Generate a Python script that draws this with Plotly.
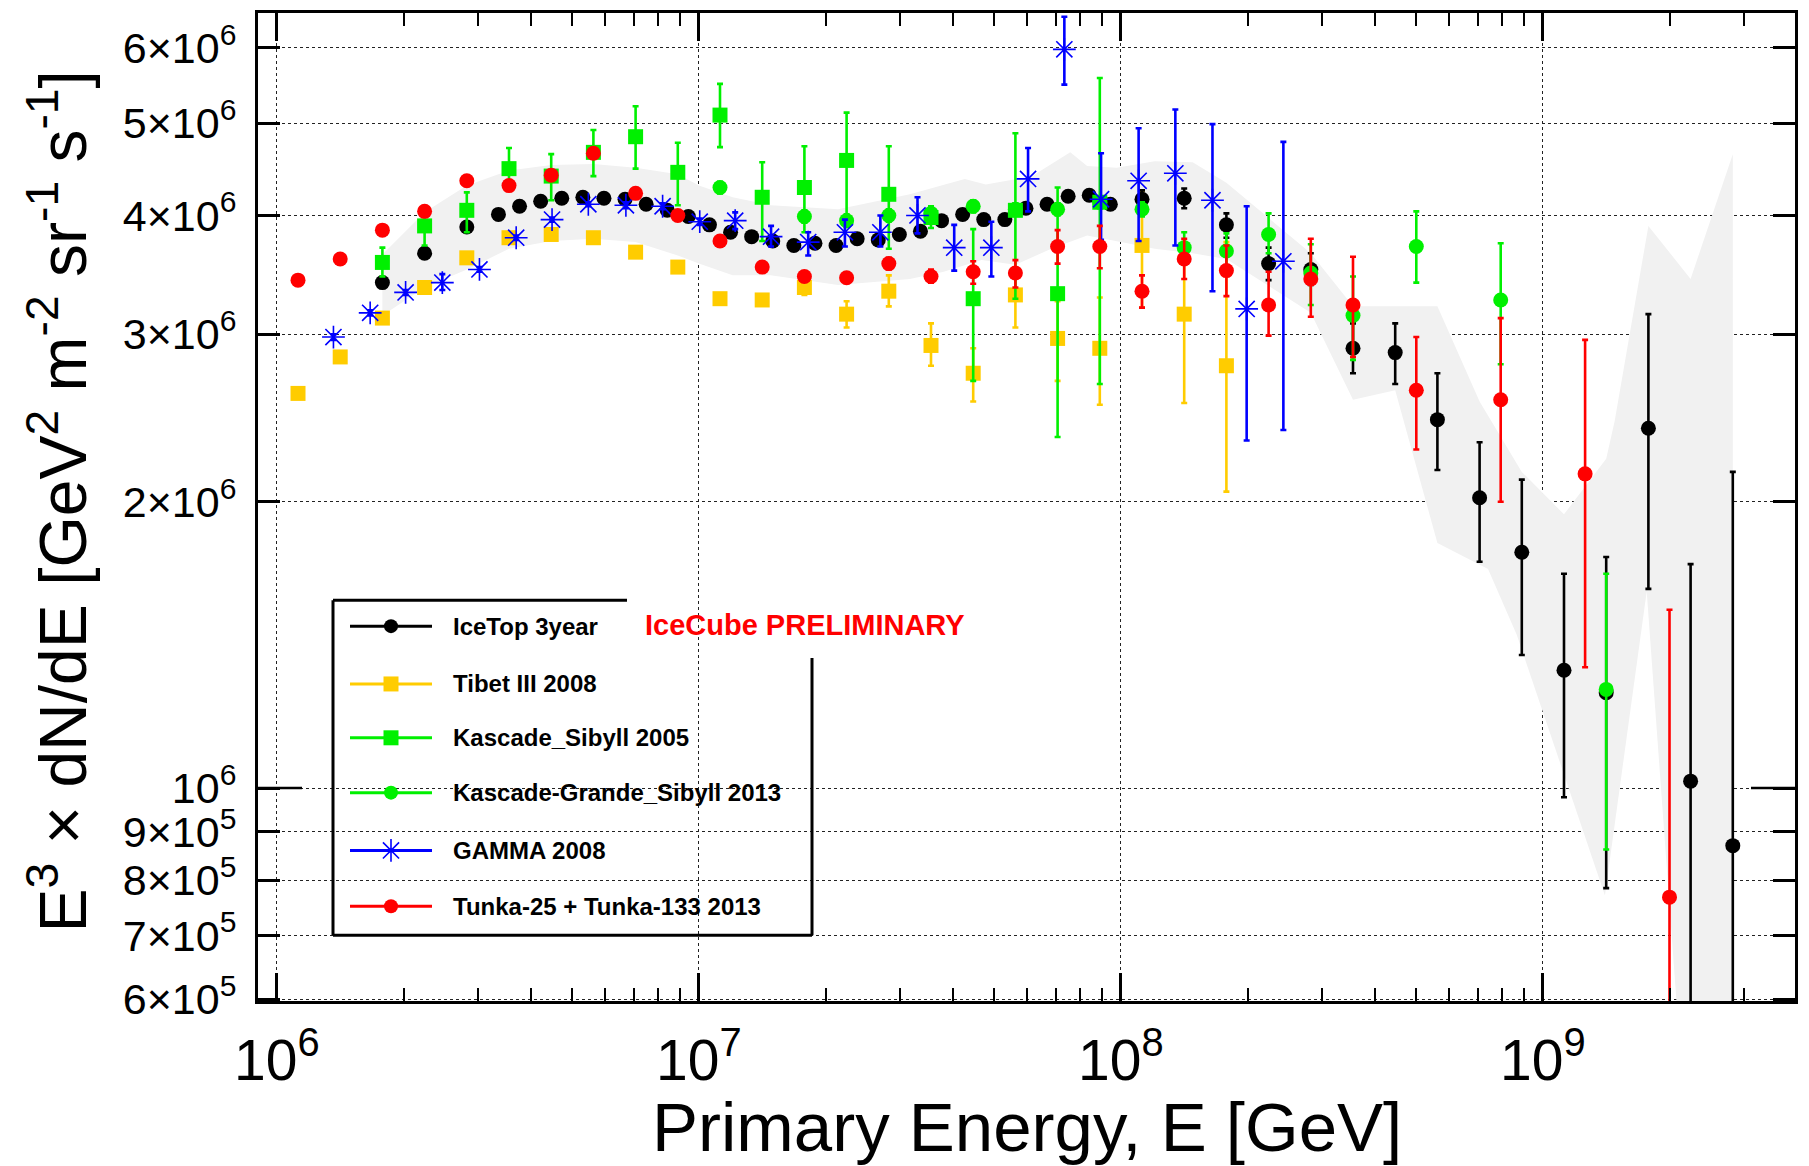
import plotly.graph_objects as go

# ---------------- data (energies as log10(E/GeV), fluxes in units of 1e6) ----------------
icetop_logE = [6.25, 6.35, 6.45, 6.525, 6.575, 6.625, 6.675, 6.725, 6.775, 6.825, 6.875, 6.925,
               6.975, 7.025, 7.075, 7.125, 7.175, 7.225, 7.275, 7.325, 7.375, 7.425, 7.475, 7.525,
               7.575, 7.625, 7.675, 7.725, 7.775, 7.825, 7.875, 7.925, 7.975, 8.05, 8.15, 8.25,
               8.35, 8.45, 8.55, 8.65, 8.75, 8.85, 8.95, 9.05, 9.15, 9.25, 9.35, 9.45]
icetop_flux = [3.40, 3.65, 3.89, 4.01, 4.09, 4.14, 4.17, 4.18, 4.17, 4.16, 4.11, 4.05,
               3.99, 3.91, 3.84, 3.80, 3.76, 3.72, 3.74, 3.72, 3.78, 3.77, 3.82, 3.85,
               3.95, 4.01, 3.96, 3.96, 4.07, 4.11, 4.19, 4.20, 4.11, 4.16, 4.17, 3.91,
               3.56, 3.51, 2.90, 2.87, 2.44, 2.02, 1.77, 1.33, 1.26, 2.39, 1.017, 0.870]
icetop_lo = [3.37, 3.62, 3.86, 3.98, 4.06, 4.11, 4.14, 4.15, 4.14, 4.13, 4.08, 4.02,
             3.96, 3.88, 3.81, 3.77, 3.73, 3.69, 3.71, 3.69, 3.75, 3.74, 3.79, 3.82,
             3.92, 3.97, 3.92, 3.92, 4.03, 4.07, 4.14, 4.15, 4.06, 4.08, 4.07, 3.79,
             3.42, 3.38, 2.73, 2.66, 2.16, 1.73, 1.38, 0.978, 0.785, 1.62, 0.45, 0.45]
icetop_hi = [3.43, 3.68, 3.92, 4.04, 4.12, 4.17, 4.20, 4.21, 4.20, 4.19, 4.14, 4.08,
             4.02, 3.94, 3.87, 3.83, 3.79, 3.75, 3.77, 3.75, 3.81, 3.80, 3.85, 3.88,
             3.98, 4.05, 4.00, 4.00, 4.11, 4.15, 4.24, 4.25, 4.16, 4.25, 4.27, 4.02,
             3.70, 3.65, 3.08, 3.08, 2.73, 2.31, 2.11, 1.68, 1.75, 3.15, 1.72, 2.15]

tibet_logE = [6.05, 6.15, 6.25, 6.35, 6.45, 6.55, 6.65, 6.75, 6.85, 6.95, 7.05, 7.15,
              7.25, 7.35, 7.45, 7.55, 7.65, 7.75, 7.85, 7.95, 8.05, 8.15, 8.25]
tibet_flux = [2.60, 2.84, 3.12, 3.36, 3.61, 3.79, 3.82, 3.79, 3.66, 3.53, 3.27, 3.26,
              3.36, 3.15, 3.33, 2.92, 2.73, 3.30, 2.97, 2.90, 3.72, 3.15, 2.78]
tibet_lo = [2.59, 2.83, 3.11, 3.35, 3.60, 3.78, 3.81, 3.78, 3.65, 3.52, 3.25, 3.22,
            3.30, 3.05, 3.21, 2.78, 2.55, 3.05, 2.68, 2.53, 3.20, 2.54, 2.05]
tibet_hi = [2.61, 2.85, 3.13, 3.37, 3.62, 3.80, 3.83, 3.80, 3.67, 3.54, 3.29, 3.30,
            3.44, 3.25, 3.46, 3.08, 2.90, 3.45, 3.25, 3.28, 4.25, 3.75, 3.75]

kascade_logE = [6.25, 6.35, 6.45, 6.55, 6.65, 6.75, 6.85, 6.95, 7.05, 7.15, 7.25, 7.35,
                7.45, 7.55, 7.65, 7.75, 7.85, 7.95]
kascade_flux = [3.57, 3.90, 4.05, 4.48, 4.40, 4.66, 4.84, 4.44, 5.10, 4.18, 4.28, 4.57,
                4.21, 3.98, 3.27, 4.05, 3.31, 4.13]
kascade_lo = [3.45, 3.72, 3.84, 4.26, 4.15, 4.40, 4.48, 4.10, 4.72, 3.76, 3.84, 3.94,
              3.69, 3.88, 2.68, 3.27, 2.34, 2.66]
kascade_hi = [3.70, 4.08, 4.23, 4.71, 4.64, 4.92, 5.21, 4.77, 5.50, 4.55, 4.73, 5.13,
              4.73, 4.09, 3.87, 4.88, 4.28, 5.58]

kgrande_logE = [7.05, 7.25, 7.35, 7.45, 7.55, 7.65, 7.75, 7.85, 7.95, 8.05, 8.15, 8.25,
                8.35, 8.45, 8.55, 8.7, 8.9, 9.15]
kgrande_flux = [4.28, 3.99, 3.95, 4.00, 4.02, 4.09, 4.06, 4.06, 4.13, 4.06, 3.70, 3.67,
                3.82, 3.48, 3.14, 3.71, 3.26, 1.27]
kgrande_lo = [4.22, 3.93, 3.89, 3.94, 3.96, 4.03, 4.00, 4.00, 4.07, 3.99, 3.56, 3.54,
              3.65, 3.22, 2.82, 3.40, 2.79, 0.862]
kgrande_hi = [4.34, 4.05, 4.01, 4.06, 4.08, 4.15, 4.12, 4.12, 4.19, 4.13, 3.84, 3.83,
              4.02, 3.73, 3.45, 4.04, 3.74, 1.68]

gamma_logE = [6.134, 6.221, 6.305, 6.392, 6.48, 6.567, 6.652, 6.738, 6.827, 6.914, 7.002,
              7.086, 7.171, 7.259, 7.346, 7.43, 7.518, 7.605, 7.693, 7.78, 7.866, 7.953,
              8.042, 8.129, 8.217, 8.298, 8.385]
gamma_flux = [2.98, 3.16, 3.32, 3.40, 3.51, 3.79, 3.96, 4.11, 4.10, 4.09, 3.94,
              3.95, 3.80, 3.75, 3.84, 3.84, 4.00, 3.70, 3.70, 4.37, 5.98, 4.16,
              4.35, 4.43, 4.15, 3.19, 3.58]
gamma_lo = [2.96, 3.14, 3.30, 3.34, 3.49, 3.77, 3.94, 4.09, 4.07, 4.06, 3.91,
            3.87, 3.71, 3.63, 3.71, 3.71, 3.83, 3.50, 3.45, 4.04, 5.49, 3.77,
            3.76, 3.72, 3.33, 2.32, 2.38]
gamma_hi = [3.00, 3.18, 3.34, 3.47, 3.53, 3.81, 3.98, 4.13, 4.13, 4.12, 3.97,
            4.03, 3.90, 3.84, 3.96, 4.00, 4.18, 3.91, 3.94, 4.71, 6.47, 4.65,
            4.94, 5.17, 4.99, 4.09, 4.78]

tunka_logE = [6.05, 6.15, 6.25, 6.35, 6.45, 6.55, 6.65, 6.75, 6.85, 6.95, 7.05, 7.15,
              7.25, 7.35, 7.45, 7.55, 7.65, 7.75, 7.85, 7.95, 8.05, 8.15, 8.25, 8.35,
              8.45, 8.55, 8.7, 8.9, 9.1, 9.3]
tunka_flux = [3.42, 3.60, 3.86, 4.04, 4.35, 4.30, 4.41, 4.65, 4.22, 4.00, 3.76, 3.53,
              3.45, 3.44, 3.56, 3.45, 3.49, 3.48, 3.71, 3.71, 3.33, 3.60, 3.50, 3.22,
              3.43, 3.22, 2.62, 2.56, 2.14, 0.768]
tunka_lo = [3.41, 3.59, 3.84, 4.02, 4.32, 4.27, 4.37, 4.60, 4.18, 3.96, 3.72, 3.49,
            3.41, 3.40, 3.51, 3.40, 3.39, 3.36, 3.56, 3.52, 3.20, 3.43, 3.29, 2.99,
            3.13, 2.84, 2.27, 2.00, 1.34, 0.40]
tunka_hi = [3.43, 3.61, 3.88, 4.06, 4.38, 4.33, 4.45, 4.70, 4.26, 4.04, 3.80, 3.57,
            3.49, 3.48, 3.61, 3.51, 3.58, 3.59, 3.86, 3.90, 3.46, 3.78, 3.72, 3.49,
            3.78, 3.62, 2.98, 3.12, 2.96, 1.54]

# IceTop systematic band (upper edge left->right, lower edge right->left)
band_up_logE = [6.25, 6.35, 6.45, 6.55, 6.65, 6.75, 6.85, 6.95, 7.0, 7.08, 7.17, 7.33, 7.5,
                7.63, 7.68, 7.79, 7.88, 7.92, 7.99, 8.08, 8.17, 8.25, 8.45, 8.55, 8.75, 8.85,
                8.95, 9.05, 9.15, 9.17, 9.25, 9.35, 9.45]
band_up = [3.64, 4.03, 4.30, 4.46, 4.52, 4.53, 4.49, 4.42, 4.30, 4.18, 4.10, 4.06, 4.21,
           4.37, 4.31, 4.40, 4.66, 4.51, 4.49, 4.56, 4.55, 4.33, 3.65, 3.21, 3.21, 2.55,
           2.15, 1.94, 2.22, 2.43, 3.90, 3.43, 4.64]
band_lo_logE = [9.45, 9.345, 9.246, 9.147, 9.0, 8.938, 8.87, 8.75, 8.65, 8.55, 8.45, 8.25,
                8.17, 8.08, 8.0, 7.92, 7.835, 7.75, 7.67, 7.58, 7.5, 7.33, 7.17, 7.08, 7.0,
                6.95, 6.85, 6.75, 6.65, 6.55, 6.45, 6.35, 6.25]
band_lo = [0.40, 0.40, 1.61, 0.771, 1.20, 1.45, 1.70, 1.81, 2.62, 2.56, 3.16, 3.60,
           3.65, 3.69, 3.75, 3.81, 3.69, 3.55, 3.59, 3.49, 3.43, 3.38, 3.46, 3.46, 3.56,
           3.63, 3.75, 3.78, 3.76, 3.69, 3.51, 3.36, 3.14]

series_names = ["IceTop 3year", "Tibet III 2008", "Kascade_Sibyll 2005",
                "Kascade-Grande_Sibyll 2013", "GAMMA 2008", "Tunka-25 + Tunka-133 2013"]
x_tickvals = [1e6, 1e7, 1e8, 1e9]
x_ticktext = ["10<sup>6</sup>", "10<sup>7</sup>", "10<sup>8</sup>", "10<sup>9</sup>"]
y_tickvals = [6e5, 7e5, 8e5, 9e5, 1e6, 2e6, 3e6, 4e6, 5e6, 6e6]
y_ticktext = ["6×10<sup>5</sup>", "7×10<sup>5</sup>", "8×10<sup>5</sup>", "9×10<sup>5</sup>",
              "10<sup>6</sup>", "2×10<sup>6</sup>", "3×10<sup>6</sup>", "4×10<sup>6</sup>",
              "5×10<sup>6</sup>", "6×10<sup>6</sup>"]

# ---------------- styling ----------------
FONT = "Liberation Sans, Arial, Helvetica, sans-serif"
BLACK, YELLOW, GREEN, BLUE, RED = "#000000", "#FFCC00", "#00F000", "#0000FF", "#FF0000"
SCALE = 1e6

# plot-area geometry in page pixels
W, H = 1809, 1166
L, R, T, B = 258, 1795, 10, 1001
PW, PH = R - L, B - T
XR = [5.9552, 9.5974]
YR = [5.7762, 6.8149]


def px(xp):
    return (xp - L) / PW


def py(yp):
    return (B - yp) / PH


def E(lst):
    return [10 ** v for v in lst]


def F(lst):
    return [v * SCALE for v in lst]


fig = go.Figure()

# systematic band
fig.add_trace(go.Scatter(
    x=E(band_up_logE + band_lo_logE), y=F(band_up + band_lo),
    fill="toself", fillcolor="#F1F1F1", mode="lines", line=dict(width=0, color="#F1F1F1"),
    hoverinfo="skip", showlegend=False))


def add_series(logE, flux, lo, hi, color, symbol, size, name, open_sym=False):
    y = F(flux)
    up = [(h - f) * SCALE for h, f in zip(hi, flux)]
    dn = [(f - l) * SCALE for f, l in zip(flux, lo)]
    marker = dict(symbol=symbol, size=size, color=color, line=dict(width=0, color=color))
    if open_sym:
        marker = dict(symbol=symbol, size=size, color=color, line=dict(width=1.6, color=color))
    fig.add_trace(go.Scatter(
        x=E(logE), y=y, mode="markers", name=name, marker=marker, showlegend=False,
        error_y=dict(type="data", symmetric=False, array=up, arrayminus=dn,
                     color=color, thickness=2.6, width=3)))


add_series(tibet_logE, tibet_flux, tibet_lo, tibet_hi, YELLOW, "square", 15, series_names[1])
add_series(icetop_logE, icetop_flux, icetop_lo, icetop_hi, BLACK, "circle", 15, series_names[0])
add_series(kascade_logE, kascade_flux, kascade_lo, kascade_hi, GREEN, "square", 15, series_names[2])
add_series(kgrande_logE, kgrande_flux, kgrande_lo, kgrande_hi, GREEN, "circle", 15, series_names[3])
add_series(gamma_logE, gamma_flux, gamma_lo, gamma_hi, BLUE, "asterisk-open", 19, series_names[4], True)
add_series(tunka_logE, tunka_flux, tunka_lo, tunka_hi, RED, "circle", 15, series_names[5])

# ---------------- hand-drawn legend (on an overlay 0..1 axis pair) ----------------
leg_rows = [625, 683, 737, 792, 850, 906]
leg_styles = [(BLACK, "circle", 14, False), (YELLOW, "square", 15, False), (GREEN, "square", 15, False),
              (GREEN, "circle", 14, False), (BLUE, "asterisk-open", 19, True), (RED, "circle", 14, False)]
for (col, sym, sz, op), yrow, nm in zip(leg_styles, leg_rows, series_names):
    fig.add_trace(go.Scatter(
        x=[px(350), px(432)], y=[py(yrow), py(yrow)], mode="lines",
        line=dict(color=col, width=3), xaxis="x2", yaxis="y2", showlegend=False, hoverinfo="skip"))
    fig.add_trace(go.Scatter(
        x=[px(391)], y=[py(yrow)], mode="markers",
        marker=dict(symbol=sym, size=sz, color=col, line=dict(width=1.6 if op else 0, color=col)),
        xaxis="x2", yaxis="y2", showlegend=False, hoverinfo="skip"))
    fig.add_annotation(x=px(451), y=py(yrow), xref="paper", yref="paper", text="<b>%s</b>" % nm,
                       showarrow=False, xanchor="left", yanchor="middle",
                       font=dict(family=FONT, size=24, color="black"))

shapes = []
# white legend background (above grid, below traces)
shapes.append(dict(type="rect", xref="paper", yref="paper", x0=px(333), x1=px(812),
                   y0=py(935), y1=py(599), fillcolor="white", line=dict(width=0), layer="between"))
for (x0, y0, x1, y1) in [(333, 599, 333, 935), (333, 935, 812, 935), (812, 657, 812, 935),
                         (333, 599, 627, 599)]:
    shapes.append(dict(type="line", xref="paper", yref="paper", x0=px(x0), y0=py(y0),
                       x1=px(x1), y1=py(y1), line=dict(color="black", width=3), layer="above"))
# longer ticks at 10^6 on both sides
y1e6 = (6 - YR[0]) / (YR[1] - YR[0])
shapes.append(dict(type="line", xref="paper", yref="paper", x0=0, x1=44 / PW, y0=y1e6, y1=y1e6,
                   line=dict(color="black", width=2.5)))
shapes.append(dict(type="line", xref="paper", yref="paper", x0=1 - 44 / PW, x1=1, y0=y1e6, y1=y1e6,
                   line=dict(color="black", width=2.5)))

annotations = [
    dict(x=px(643), y=py(624), xref="paper", yref="paper", text="<b>IceCube PRELIMINARY</b>",
         showarrow=False, xanchor="left", yanchor="middle",
         font=dict(family=FONT, size=29, color="#FF0000")),
    dict(x=0.5, y=py(1128), xref="paper", yref="paper", text="Primary Energy, E [GeV]",
         showarrow=False, xanchor="center", yanchor="middle",
         font=dict(family=FONT, size=69, color="black")),
    dict(x=px(58), y=py(500), xref="paper", yref="paper", textangle=-90,
         text="E<sup>3</sup> × dN/dE [GeV<sup>2</sup> m<sup>-2</sup> sr<sup>-1</sup> s<sup>-1</sup>]",
         showarrow=False, xanchor="center", yanchor="middle",
         font=dict(family=FONT, size=66, color="black")),
]
for a in annotations:
    fig.add_annotation(**a)

x_minor = [m * 10 ** d for d in (5, 6, 7, 8, 9) for m in range(2, 10)]

fig.update_layout(
    width=W, height=H, autosize=False,
    margin=dict(l=L, r=W - R, t=T, b=H - B, pad=0),
    paper_bgcolor="white", plot_bgcolor="white",
    font=dict(family=FONT, color="black"),
    showlegend=False,
    shapes=shapes,
    xaxis=dict(type="log", range=XR, tickmode="array", tickvals=x_tickvals, ticktext=x_ticktext,
               ticks="inside", ticklen=28, tickwidth=2.5, tickcolor="black",
               showline=True, linecolor="black", linewidth=3, mirror="allticks",
               showgrid=True, gridcolor="#222222", gridwidth=1.3, griddash="dot",
               zeroline=False, tickfont=dict(family=FONT, size=57, color="black"),
               ticklabelstandoff=8,
               minor=dict(tickmode="array", tickvals=x_minor, ticks="inside", ticklen=13,
                          tickwidth=2, tickcolor="black", showgrid=False)),
    yaxis=dict(type="log", range=YR, tickmode="array", tickvals=y_tickvals, ticktext=y_ticktext,
               ticks="inside", ticklen=22, tickwidth=2.5, tickcolor="black",
               showline=True, linecolor="black", linewidth=3, mirror="allticks",
               showgrid=True, gridcolor="#222222", gridwidth=1.3, griddash="dot",
               zeroline=False, tickfont=dict(family=FONT, size=43, color="black"),
               ticklabelstandoff=10),
    xaxis2=dict(overlaying="x", range=[0, 1], visible=False, anchor="y2", fixedrange=True),
    yaxis2=dict(overlaying="y", range=[0, 1], visible=False, anchor="x2", fixedrange=True),
)

fig.write_html("out.html")
